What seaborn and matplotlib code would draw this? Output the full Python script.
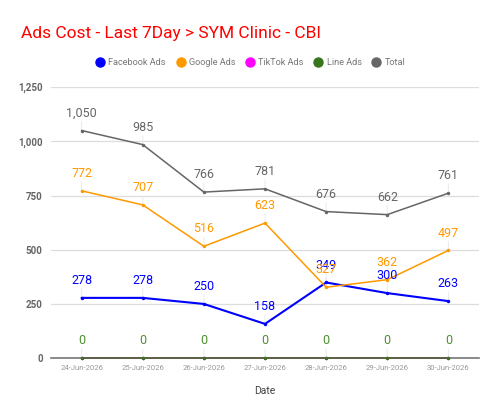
import pandas as pd
import matplotlib
matplotlib.use("Agg")
import matplotlib.pyplot as plt
import seaborn as sns

# === data ===
dates = ["24-Jun-2026", "25-Jun-2026", "26-Jun-2026", "27-Jun-2026",
         "28-Jun-2026", "29-Jun-2026", "30-Jun-2026"]
facebook_ads = [278, 278, 250, 158, 349, 300, 263]
google_ads = [772, 707, 516, 623, 327, 362, 497]
tiktok_ads = [0, 0, 0, 0, 0, 0, 0]
line_ads = [0, 0, 0, 0, 0, 0, 0]
total = [1050, 985, 766, 781, 676, 662, 761]

series_names = ["Facebook Ads", "Google Ads", "TikTok Ads", "Line Ads", "Total"]
colors = {"Facebook Ads": "#0000ff", "Google Ads": "#ff9900",
          "TikTok Ads": "#ff00ff", "Line Ads": "#38761d", "Total": "#666666"}
label_colors = {"Facebook Ads": "#0000ff", "Google Ads": "#ff9900",
                "TikTok Ads": "#ff00ff", "Line Ads": "#4f8f2f", "Total": "#666666"}
widths = {"Facebook Ads": 1.5, "Google Ads": 1.1, "TikTok Ads": 1.1,
          "Line Ads": 1.1, "Total": 1.1}

values = [facebook_ads, google_ads, tiktok_ads, line_ads, total]
df = pd.concat([
    pd.DataFrame({"Date": dates, "idx": range(len(dates)), "Series": name, "Cost": vals})
    for name, vals in zip(series_names, values)
], ignore_index=True)

sns.set_theme(style="white")
plt.rcParams["font.family"] = ["Roboto", "DejaVu Sans"]

fig = plt.figure(figsize=(5, 4.15), dpi=100)
ax = fig.add_axes([0.102, 0.137, 0.856, 0.653])

for name in series_names:
    sub = df[df["Series"] == name]
    sns.lineplot(data=sub, x="idx", y="Cost", color=colors[name], lw=widths[name],
                 marker="o", markersize=2.5, markeredgewidth=0, ax=ax, label=name,
                 zorder=3 if name != "Line Ads" else 4, clip_on=False)

# data labels
for name in ["Facebook Ads", "Google Ads", "Line Ads", "Total"]:
    sub = df[df["Series"] == name]
    for i, v in zip(sub["idx"], sub["Cost"]):
        ax.annotate(f"{v:,}", xy=(i, v), xytext=(0, 12.5), textcoords="offset points",
                    ha="center", va="center", fontsize=9, color=label_colors[name],
                    zorder=5)
        ax.annotate("", xy=(i, v), xytext=(0, 6.5), textcoords="offset points",
                    arrowprops=dict(arrowstyle="-", color="#ececec", lw=0.8,
                                    shrinkA=0, shrinkB=0), zorder=1)

ax.set_xlim(-0.5, len(dates) - 0.5)
ax.set_ylim(0, 1250)
ax.set_yticks([0, 250, 500, 750, 1000, 1250])
ax.set_yticklabels([f"{t:,}" for t in [0, 250, 500, 750, 1000, 1250]],
                   fontsize=7, color="#666666", fontweight="bold")
ax.set_xticks(range(len(dates)))
ax.set_xticklabels(dates, fontsize=5.5, color="#999999")
ax.tick_params(axis="x", length=0, pad=5)
ax.tick_params(axis="y", length=0, pad=6)
ax.grid(axis="y", color="#dddddd", lw=0.9)
ax.set_axisbelow(True)
for s in ["left", "right", "top"]:
    ax.spines[s].set_visible(False)
ax.spines["bottom"].set_color("#777777")
ax.spines["bottom"].set_linewidth(1.2)
ax.spines["bottom"].set_zorder(2)
ax.set_xlabel("Date", fontsize=7.5, color="#444444", labelpad=11)
ax.set_ylabel("")

handles = [plt.Line2D([], [], marker="o", ls="", markersize=6.5, color=colors[n])
           for n in series_names]
ax.legend_.remove()
fig.legend(handles, series_names, loc="center", bbox_to_anchor=(0.5, 0.85), ncol=5,
           frameon=False, fontsize=6.6, labelcolor="#777777", handletextpad=0.3,
           columnspacing=1.0, handlelength=1.2)

fig.text(0.042, 0.92, "Ads Cost - Last 7Day > SYM Clinic - CBI", color="#ff0000",
         fontsize=12.5, va="center", ha="left")

fig.savefig("out.png", dpi=100)
